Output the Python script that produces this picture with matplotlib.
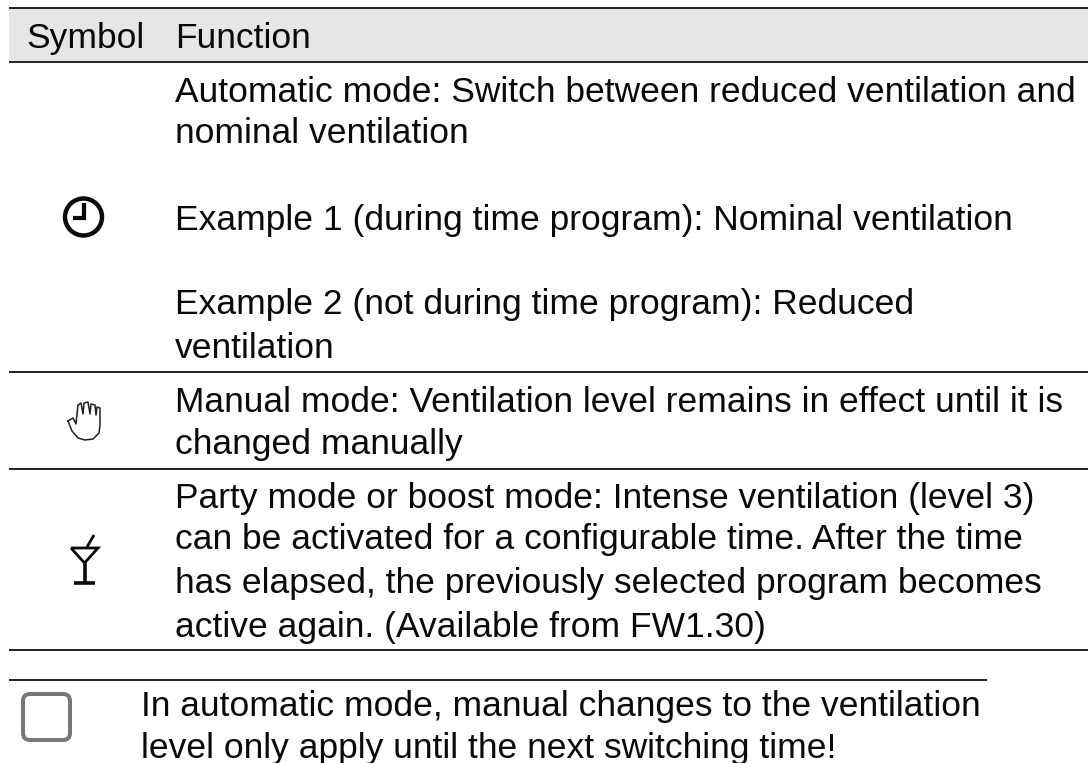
import matplotlib
matplotlib.use("Agg")
import matplotlib.pyplot as plt
from matplotlib.patches import Rectangle, Circle, FancyBboxPatch, PathPatch
from matplotlib.path import Path

W, H = 1088, 763
headers = ["Symbol", "Function"]
function_lines = [
    "Automatic mode: Switch between reduced ventilation and",
    "nominal ventilation",
    "Example 1 (during time program): Nominal ventilation",
    "Example 2 (not during time program): Reduced",
    "ventilation",
    "Manual mode: Ventilation level remains in effect until it is",
    "changed manually",
    "Party mode or boost mode: Intense ventilation (level 3)",
    "can be activated for a configurable time. After the time",
    "has elapsed, the previously selected program becomes",
    "active again. (Available from FW1.30)",
]
function_baselines = [102, 143, 230, 314, 358, 412, 454, 508, 549, 593, 637]
note_lines = [
    "In automatic mode, manual changes to the ventilation",
    "level only apply until the next switching time!",
]
note_baselines = [716, 758]
rule_y = [8, 62, 372, 469, 650]

plt.rcParams["font.family"] = ["Liberation Sans", "DejaVu Sans"]
fig = plt.figure(figsize=(W / 100, H / 100), dpi=100)
ax = fig.add_axes([0, 0, 1, 1])
ax.set_xlim(0, W)
ax.set_ylim(H, 0)
ax.axis("off")

FS = 25.45
TC = "#0a0a0a"
ax.add_patch(Rectangle((9, 8), W - 9, 54, fc="#e6e6e6", ec="none", zorder=0))
for y in rule_y:
    ax.plot([9, W], [y, y], color="#111111", lw=1.3, solid_capstyle="butt")
ax.plot([9, 987], [680, 680], color="#111111", lw=1.3, solid_capstyle="butt")

ax.text(26, 48, headers[0], fontsize=FS, color=TC, va="baseline")
ax.text(175, 48, headers[1], fontsize=FS, color=TC, va="baseline")
for s, y in zip(function_lines, function_baselines):
    ax.text(175, y, s, fontsize=FS, color=TC, va="baseline")
for s, y in zip(note_lines, note_baselines):
    ax.text(141, y, s, fontsize=FS, color=TC, va="baseline")

# clock icon
ax.add_patch(Circle((83.5, 217), 18.5, fc="none", ec="#0a0a0a", lw=3.2))
ax.plot([84, 84, 73], [203, 218, 218], color="#0a0a0a", lw=3, solid_joinstyle="miter", solid_capstyle="butt")

# hand icon
hand = [(68, 421), (73, 418), (76, 424), (77, 414), (78, 405), (81, 403), (83, 414), (84, 403),
        (88, 402), (90, 414), (91, 404), (95, 405), (96, 415), (97, 407), (100, 408), (100, 425),
        (99, 433), (93, 439), (85, 440), (78, 438), (72, 431), (70, 426)]
ax.plot([p[0] for p in hand] + [hand[0][0]], [p[1] for p in hand] + [hand[0][1]],
        color="#222222", lw=1.1, solid_joinstyle="round")

# cocktail glass icon
ax.add_patch(PathPatch(Path([(71, 548), (98, 548), (84.5, 563), (71, 548)], closed=False),
                       fc="none", ec="#0a0a0a", lw=2.0))
ax.plot([84.5, 84.5], [562, 582], color="#0a0a0a", lw=2.6, solid_capstyle="butt")
ax.plot([74, 95], [582.5, 582.5], color="#0a0a0a", lw=2.6, solid_capstyle="butt")
ax.plot([87, 94], [547, 535], color="#0a0a0a", lw=2.0, solid_capstyle="butt")

# note box icon
ax.add_patch(FancyBboxPatch((23, 694), 47, 46, boxstyle="round,pad=0,rounding_size=7",
                            fc="white", ec="#777777", lw=2.9))

fig.savefig("out.png", dpi=100)
